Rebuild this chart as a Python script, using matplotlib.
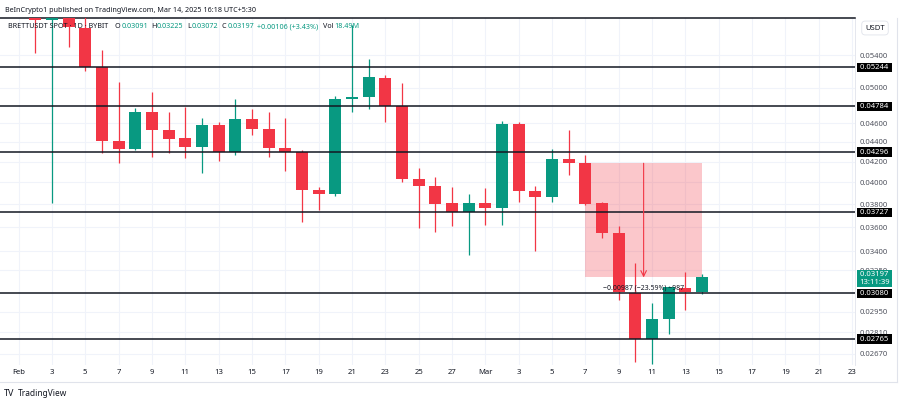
import matplotlib
matplotlib.use('Agg')
import matplotlib.pyplot as plt
from matplotlib.patches import Rectangle
from matplotlib.lines import Line2D
from matplotlib.ticker import NullLocator, NullFormatter
from matplotlib.transforms import blended_transform_factory
import pandas as pd

plt.rcParams['font.family'] = ['Noto Sans', 'DejaVu Sans']

# daily candles, Feb 2 .. Mar 14 2025
dates = pd.date_range('2025-02-02', '2025-03-14', freq='D')
opens = [0.0600, 0.0587, 0.0600, 0.0576, 0.0525, 0.0441, 0.0433, 0.0472, 0.0453, 0.0444,
         0.0435, 0.0458, 0.0430, 0.0464, 0.0454, 0.0434, 0.0430, 0.0393, 0.0389, 0.0487,
         0.0489, 0.0512, 0.0479, 0.0403, 0.0397, 0.0381, 0.03727, 0.0381, 0.03765, 0.0459,
         0.0392, 0.03866, 0.0423, 0.04184, 0.0381, 0.0355, 0.0308, 0.02765, 0.0290, 0.03118,
         0.03091]
highs = [0.0615, 0.0620, 0.0610, 0.0595, 0.0546, 0.0507, 0.0477, 0.0495, 0.0472, 0.0478,
         0.0465, 0.0461, 0.0487, 0.0476, 0.0472, 0.0465, 0.0432, 0.0396, 0.0490, 0.0580,
         0.0535, 0.0515, 0.0506, 0.0414, 0.0405, 0.03955, 0.0389, 0.0395, 0.0462, 0.0461,
         0.0397, 0.0433, 0.0453, 0.0427, 0.0382, 0.0361, 0.0331, 0.0301, 0.0313, 0.0324,
         0.03225]
lows = [0.0543, 0.0381, 0.0550, 0.0520, 0.0429, 0.0419, 0.0432, 0.0425, 0.0429, 0.0424,
        0.0409, 0.0421, 0.0427, 0.0447, 0.0425, 0.0411, 0.0364, 0.0375, 0.0387, 0.0472,
        0.0476, 0.0461, 0.0400, 0.0359, 0.0356, 0.0361, 0.0337, 0.0362, 0.0362, 0.0382,
        0.0340, 0.0382, 0.0407, 0.0379, 0.0351, 0.0303, 0.0262, 0.0261, 0.0280, 0.0296,
        0.03072]
closes = [0.0586, 0.0600, 0.0577, 0.0525, 0.0441, 0.0433, 0.0472, 0.0452, 0.0443, 0.0435,
          0.0458, 0.0430, 0.0464, 0.0454, 0.0434, 0.0430, 0.0393, 0.0389, 0.0487, 0.0489,
          0.0513, 0.0479, 0.0403, 0.0397, 0.0380, 0.03727, 0.0381, 0.03765, 0.0459, 0.0392,
          0.03866, 0.0423, 0.0419, 0.0380, 0.0355, 0.03088, 0.02765, 0.0290, 0.03124, 0.03091,
          0.03197]

levels = [0.05244, 0.04784, 0.04296, 0.03727, 0.03080, 0.02765]
price_ticks = [0.05400, 0.05000, 0.04600, 0.04400, 0.04200, 0.04000, 0.03800, 0.03600,
               0.03400, 0.03250, 0.02950, 0.02810, 0.02670]
x_tick_labels = ['Feb', '3', '5', '7', '9', '11', '13', '15', '17', '19', '21', '23', '25', '27',
                 'Mar', '3', '5', '7', '9', '11', '13', '15', '17', '19', '21', '23']
last_price = 0.03197
countdown = '13:11:39'
range_top = 0.04184
range_start = pd.Timestamp('2025-03-07')
range_end = pd.Timestamp('2025-03-14')
range_label = '\u22120.00987 (\u221223.59%) \u2212987'

header = 'BeInCrypto1 published on TradingView.com, Mar 14, 2025 16:18 UTC+5:30'
symbol = 'BRETTUSDT SPOT \u00b7 1D \u00b7 BYBIT'
ohlc = [('O', '0.03091', 115), ('H', '0.03225', 151), ('L', '0.03072', 187), ('C', '0.03197', 222)]
change = '+0.00106 (+3.43%)'
volume = '18.49M'

red = '#F23645'
green = '#089981'
dark = '#131722'

start = pd.Timestamp('2025-02-01')
x = [(d - start).days for d in dates]

fig = plt.figure(figsize=(9, 4), dpi=100)
ax = fig.add_axes([0, 35 / 400, 855 / 900, 347 / 400])
ax.set_yscale('log')
ax.set_xlim(-1.11, 50.18)
ax.set_ylim(0.02601, 0.05892)

# candles
for xi, o, h, l, c in zip(x, opens, highs, lows, closes):
    col = green if c >= o else red
    ax.vlines(xi, l, h, color=col, lw=0.9, zorder=3)
    lo, hi = min(o, c), max(o, c)
    if hi / lo < 1.004:
        hi = lo * 1.004
    ax.add_patch(Rectangle((xi - 0.36, lo), 0.72, hi - lo, facecolor=col, lw=0, zorder=4))

# horizontal levels
for lv in levels:
    ax.axhline(lv, color=dark, lw=1.1, zorder=5)

# price range tool
x0 = (range_start - start).days
x1 = (range_end - start).days
ax.add_patch(Rectangle((x0, last_price), x1 - x0, range_top - last_price,
                       facecolor=red, alpha=0.28, lw=0, zorder=2))
xm = (x0 + x1) / 2
ax.annotate('', xy=(xm, last_price), xytext=(xm, range_top),
            arrowprops=dict(arrowstyle='->', color=red, lw=0.8, shrinkA=0, shrinkB=0), zorder=6)
ax.annotate(range_label, xy=(xm, last_price), xytext=(0, -5), textcoords='offset points',
            ha='center', va='top', fontsize=5, color=dark, zorder=7)

# axes styling
ax.yaxis.tick_right()
ax.set_yticks(price_ticks)
ax.set_yticklabels([f'{p:.5f}' for p in price_ticks])
ax.yaxis.set_minor_locator(NullLocator())
ax.yaxis.set_minor_formatter(NullFormatter())
ax.tick_params(axis='y', length=0, pad=3.5, labelsize=5.5, labelcolor='#50535e')

ax.set_xticks(list(range(0, 51, 2)))
ax.set_xticklabels(x_tick_labels)
ax.tick_params(axis='x', length=0, pad=3, labelsize=5.5, labelcolor=dark)
for lbl in ax.get_xticklabels():
    if lbl.get_text() in ('Feb', 'Mar'):
        lbl.set_fontweight('bold')

ax.grid(True, color='#f0f3fa', lw=0.8, zorder=0)
ax.set_axisbelow(True)
for side in ('left', 'bottom'):
    ax.spines[side].set_visible(False)
ax.spines['top'].set_color(dark)
ax.spines['top'].set_linewidth(1.1)
ax.spines['right'].set_color('#e0e3eb')
ax.spines['right'].set_linewidth(0.6)

# boxed price labels on the right scale
tr = blended_transform_factory(ax.transAxes, ax.transData)
lx = 874.5 / 855
for lv in levels:
    ax.text(lx, lv, f' {lv:.5f} ', transform=tr, ha='center', va='center', fontsize=5.5,
            color='white', clip_on=False, zorder=8,
            bbox=dict(boxstyle='square,pad=0.15', fc='black', ec='none'))
ax.annotate(f' {last_price:.5f} \n{countdown}', xy=(lx, last_price), xycoords=tr,
            xytext=(0, 4.5), textcoords='offset points', ha='center', va='top',
            fontsize=5.5, color='white', linespacing=1.15, annotation_clip=False, zorder=9,
            bbox=dict(boxstyle='square,pad=0.2', fc=green, ec='none'))

fig.text(875 / 900, 1 - 28 / 400, 'USDT', ha='center', va='center', fontsize=5.5, color=dark,
         bbox=dict(boxstyle='round,pad=0.45', fc='white', ec='#e0e3eb', lw=0.6))

# header and legend line
fs = 5.2
ly = 1 - 27 / 400
fig.text(5 / 900, 1 - 10 / 400, header, ha='left', va='center', fontsize=fs, color=dark)
fig.text(8 / 900, ly, symbol, ha='left', va='center', fontsize=fs, color=dark)
for letter, val, px in ohlc:
    t = fig.text(px / 900, ly, letter, ha='left', va='center', fontsize=fs, color=dark)
    plt.annotate(val, xy=(1, 0.5), xycoords=t, xytext=(0.4, 0), textcoords='offset points',
                 ha='left', va='center', fontsize=fs, color=green)
fig.text(257 / 900, ly, change, ha='left', va='center', fontsize=fs, color=green)
tv = fig.text(323 / 900, ly, 'Vol', ha='left', va='center', fontsize=fs, color=dark)
plt.annotate(volume, xy=(1, 0.5), xycoords=tv, xytext=(0.4, 0), textcoords='offset points',
             ha='left', va='center', fontsize=fs, color=green)

# frame pieces and footer
fig.add_artist(Line2D([0, 897 / 900], [1 - 382 / 400] * 2, color='#e0e3eb', lw=0.8))
fig.add_artist(Line2D([897 / 900] * 2, [1 - 382 / 400, 1 - 18 / 400], color='#e0e3eb', lw=0.8))
fig.text(4 / 900, 1 - 393 / 400, 'TV', ha='left', va='center', fontsize=6.5,
         fontweight='heavy', color=dark)
fig.text(18 / 900, 1 - 393 / 400, 'TradingView', ha='left', va='center', fontsize=6, color=dark)

fig.savefig('out.png', dpi=100, facecolor='white')
